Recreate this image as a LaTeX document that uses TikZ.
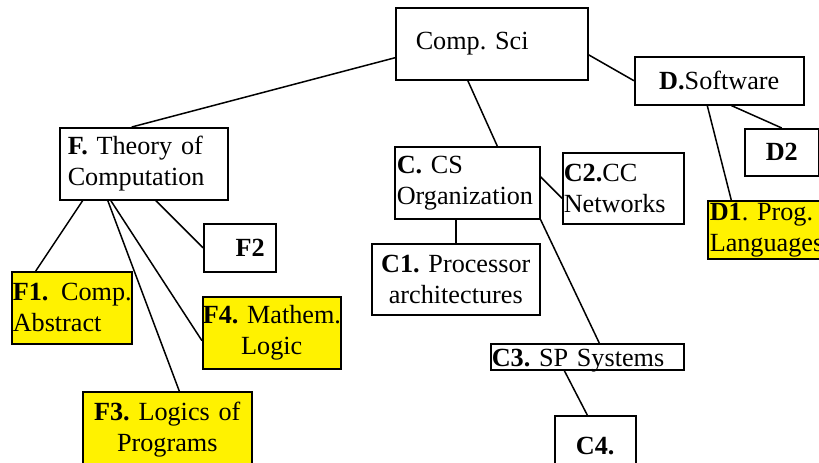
\documentclass[tikz,border=0pt]{standalone}
\usepackage{fontspec}
\setmainfont{Liberation Serif}
\usepackage{tikz}

\newcommand{\nodefont}{\fontsize{26.2pt}{31pt}\selectfont\frenchspacing}

\tikzset{
	topic/.style={draw, line width=1.5pt, anchor=north west,
		inner ysep=0pt, font=\nodefont},
	pick/.style={topic, fill=yellow}
}

\begin{document}
\begin{tikzpicture}[x=1pt, y=-1pt, line width=1.5pt]
			\clip (0,0) rectangle (819,463);
			
			% Comp. Sci
			\node [topic,
				minimum height=72pt,
				inner xsep=20pt,
				text width=152pt,
				align=left
				] (cs) at (395,7) {Comp. Sci};
			
			% Software
			\node [topic,
				minimum height=48pt,
				inner xsep=2pt,
				text width=165pt,
				align=center
				] (sw) at (634,56) {\textbf{D.}Software};
			
			\node [topic,
				minimum height=47pt,
				inner xsep=2pt,
				text width=70pt,
				align=center
				] (d2) at (744,128) {\textbf{D2}};
			
			\node [pick,
				minimum height=58pt,
				inner xsep=2pt,
				text width=119pt,
				align=left
				] (d1) at (707,200) {\textbf{D1}. Prog.\\Languages};
			
			% CS Organization
			\node [topic,
				minimum height=72pt,
				inner xsep=2pt,
				text width=141pt,
				align=left
				] (org) at (394,146) {\textbf{C.} CS\\Organization};
			
			\node [topic,
				minimum height=71pt,
				inner xsep=1pt,
				text width=119pt,
				align=left
				] (c2) at (562,152) {\textbf{C2.}CC\\Networks};
			
			\node [topic,
				minimum height=71pt,
				inner xsep=2pt,
				text width=164pt,
				align=center
				] (c1) at (371,243) {\textbf{C1.} Processor\\architectures};
			
			\node [topic,
				minimum height=26pt,
				inner xsep=1pt,
				inner ysep=3.5pt,
				text height=19pt,
				text depth=0pt,
				text width=191pt,
				align=left
				] (c3) at (490,343) {\textbf{C3.} SP Systems};
			
			\node [topic,
				minimum height=60pt,
				inner xsep=2pt,
				text width=77pt,
				align=center
				] (c4) at (554,415) {\textbf{C4.}};
			
			% Theory of Computation
			\node [topic,
				minimum height=72pt,
				inner xsep=8pt,
				text width=152pt,
				align=left
				] (toc) at (59,127) {\textbf{F.} Theory of\\Computation};
			
			\node [topic,
				minimum height=48pt,
				inner xsep=11pt,
				text width=50pt,
				align=right
				] (f2) at (203,223) {\textbf{F2}};
			
			\node [pick,
				minimum height=72pt,
				inner xsep=1pt,
				text width=118pt,
				align=left
				] (f1) at (11,271) {\mbox{\textbf{F1.}\hspace{4pt} Comp.}\\Abstract};
			
			\node [pick,
				minimum height=72pt,
				inner xsep=0pt,
				text width=138pt,
				align=center
				] (f4) at (202,296) {\mbox{\textbf{F4.} Mathem.}\\Logic};
			
			\node [pick,
				minimum height=76pt,
				inner xsep=2pt,
				text width=165pt,
				align=center
				] (f3) at (82,391) {\textbf{F3.} Logics of\\Programs};
			
			% Lines
			\draw ([yshift=-14pt]cs.west) -- ([xshift=-12pt]toc.north);
			\draw ([yshift=-11pt]cs.east) -- (sw.west);
			\draw ([xshift=-24pt]cs.south) -- ([xshift=30pt]org.north);
			\draw ([xshift=12pt]sw.south) -- (d2.north);
			\draw ([xshift=-12pt]sw.south) -- ([xshift=-38pt]d1.north);
			\draw ([yshift=6pt]org.east) -- ([yshift=-10pt]c2.west);
			\draw (org.south -| c1.north) -- (c1.north);
			\draw (org.south east) -- ([xshift=12pt]c3.north);
			\draw ([xshift=-23pt]c3.south) -- ([xshift=-8pt]c4.north);
			\draw ([xshift=-61pt]toc.south) -- ([xshift=-36pt]f1.north);
			\draw ([xshift=12pt]toc.south) -- (f2.west);
			\draw ([xshift=-33pt]toc.south) -- ([yshift=-8pt]f4.west);
			\draw ([xshift=-36pt]toc.south) -- ([xshift=12pt]f3.north);
		
		\end{tikzpicture}
\end{document}
